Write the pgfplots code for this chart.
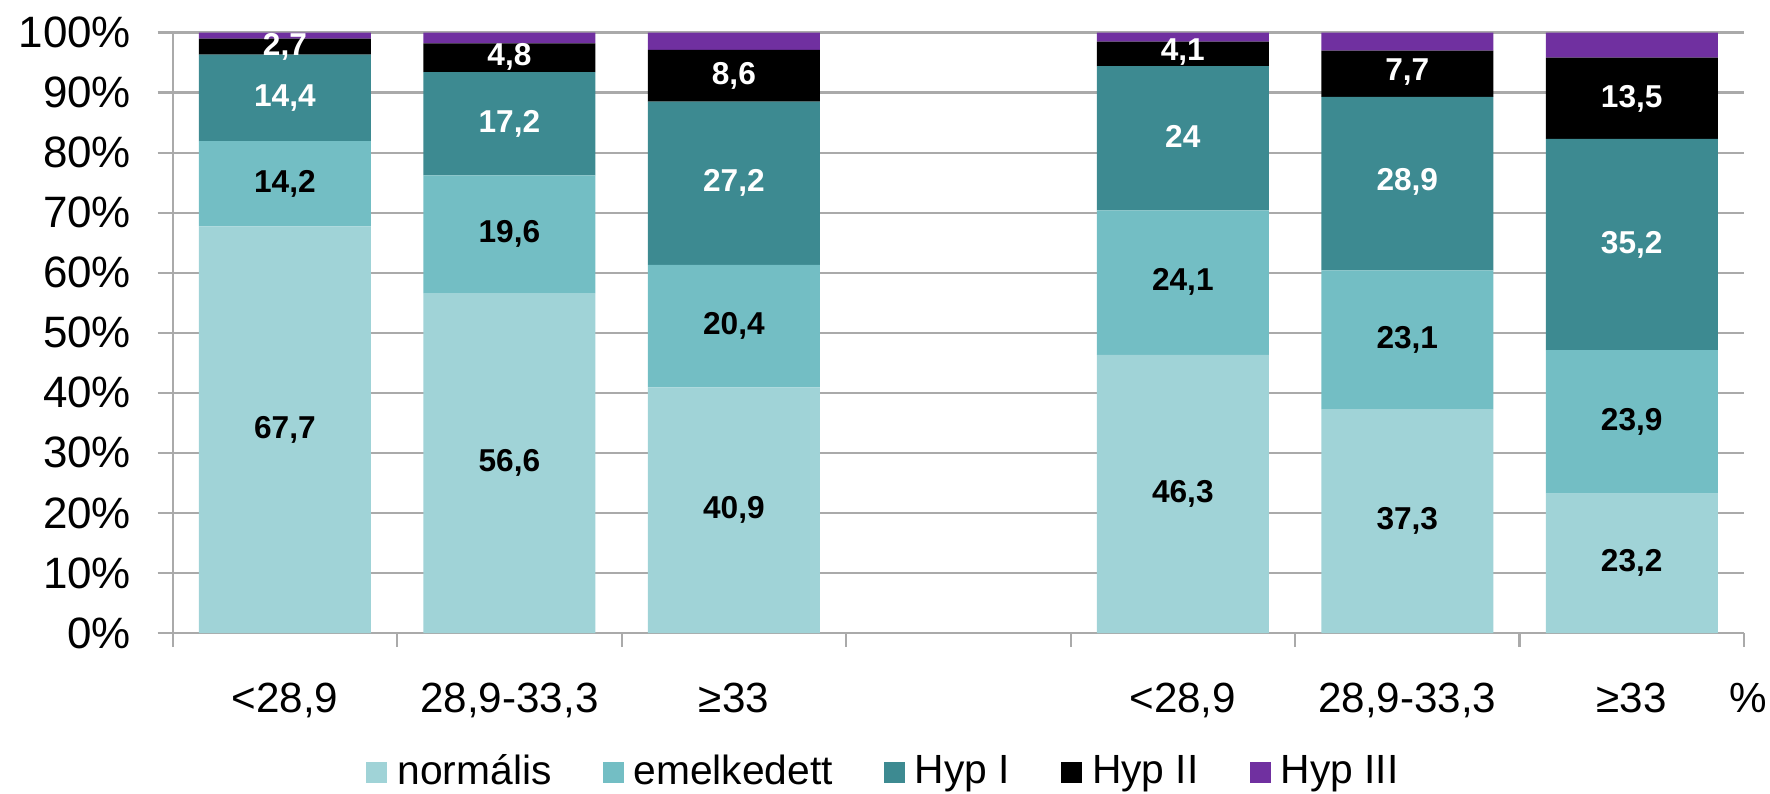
\documentclass[border=0pt]{standalone}
\usepackage{pgfplots}
\pgfplotsset{compat=1.18}
\usepackage{fontspec}
\setmainfont{Liberation Sans}
\definecolor{cNorm}{RGB}{160,211,215}
\definecolor{cEmel}{RGB}{115,190,196}
\definecolor{cHypI}{RGB}{61,138,145}
\definecolor{cHypII}{RGB}{0,0,0}
\definecolor{cHypIII}{RGB}{112,48,160}
\definecolor{cGrid}{RGB}{170,170,170}
\tikzset{lb/.style={font=\fontsize{9}{10}\selectfont\bfseries, text=black, inner sep=0pt},
         lw/.style={lb, text=white}}
\begin{document}
\begin{tikzpicture}
\useasboundingbox (-17.27mm,-16.0mm) rectangle (159.73mm,63.3mm);
\begin{axis}[
  scale only axis,
  width=157.13mm, height=60.05mm,
  ybar stacked, bar width=17.2mm,
  xmin=-0.5, xmax=6.5, ymin=0, ymax=100,
  axis x line*=bottom, axis y line*=left,
  axis line style={cGrid, line width=0.6pt, -},
  ymajorgrids, grid style={cGrid, line width=0.6pt},
  tick align=outside,
  ytick={0,10,...,100},
  yticklabels={0\%,10\%,20\%,30\%,40\%,50\%,60\%,70\%,80\%,90\%,100\%},
  y tick style={cGrid, line width=0.6pt},
  major tick length=1.5mm,
  yticklabel style={font=\fontsize{12.5}{14}\selectfont, anchor=east, inner sep=0pt, xshift=-2.6mm},
  xtick={0,1,2,4,5,6},
  xticklabels={{<28,9}, {28,9-33,3}, {≥33}, {<28,9}, {28,9-33,3}, {≥33}},
  x tick style={draw=none},
  xticklabel style={font=\fontsize{12}{14}\selectfont, anchor=base, inner sep=0pt, yshift=-6.4mm},
  minor xtick={-0.5,0.5,...,6.5},
  minor x tick style={cGrid, line width=0.6pt, draw=cGrid},
  minor tick length=1.4mm,
  legend columns=5,
  legend style={at={(0.4533,-0.2315)}, anchor=center, draw=none, fill=none,
    font=\fontsize{11.6}{14}\selectfont,
    /tikz/every odd column/.append style={column sep=0.5mm},
    /tikz/every even column/.append style={column sep=4.6mm},
    nodes={inner sep=0.5mm}},
  legend image code/.code={\fill[#1] (0mm,-1.05mm) rectangle (2.1mm,1.05mm);},
  clip=false,
  after end axis/.append code={
    % normális
    \node[lb] at (axis cs:0,33.85) {67,7};
    \node[lb] at (axis cs:1,28.3) {56,6};
    \node[lb] at (axis cs:2,20.45) {40,9};
    \node[lb] at (axis cs:4,23.15) {46,3};
    \node[lb] at (axis cs:5,18.65) {37,3};
    \node[lb] at (axis cs:6,11.6) {23,2};
    % emelkedett
    \node[lb] at (axis cs:0,74.8) {14,2};
    \node[lb] at (axis cs:1,66.4) {19,6};
    \node[lb] at (axis cs:2,51.1) {20,4};
    \node[lb] at (axis cs:4,58.4) {24,1};
    \node[lb] at (axis cs:5,48.85) {23,1};
    \node[lb] at (axis cs:6,35.15) {23,9};
    % Hyp I
    \node[lw] at (axis cs:0,89.1) {14,4};
    \node[lw] at (axis cs:1,84.8) {17,2};
    \node[lw] at (axis cs:2,74.9) {27,2};
    \node[lw] at (axis cs:4,82.7) {24};
    \node[lw] at (axis cs:5,75.1) {28,9};
    \node[lw] at (axis cs:6,64.7) {35,2};
    % Hyp II
    \node[lw] at (axis cs:0,97.6) {2,7};
    \node[lw] at (axis cs:1,96.0) {4,8};
    \node[lw] at (axis cs:2,92.8) {8,6};
    \node[lw] at (axis cs:4,96.8) {4,1};
    \node[lw] at (axis cs:5,93.4) {7,7};
    \node[lw] at (axis cs:6,88.9) {13,5};
    \node[anchor=base, font=\fontsize{12}{14}\selectfont, inner sep=0pt] at (axis cs:6.5,0) [xshift=0.4mm, yshift=-7.9mm] {\%};
  },
]
\addplot[fill=cNorm, draw=none] coordinates {(0,67.7) (1,56.6) (2,40.9) (4,46.3) (5,37.3) (6,23.2)};
\addplot[fill=cEmel, draw=none] coordinates {(0,14.2) (1,19.6) (2,20.4) (4,24.1) (5,23.1) (6,23.9)};
\addplot[fill=cHypI, draw=none] coordinates {(0,14.4) (1,17.2) (2,27.2) (4,24.0) (5,28.9) (6,35.2)};
\addplot[fill=cHypII, draw=none] coordinates {(0,2.7) (1,4.8) (2,8.6) (4,4.1) (5,7.7) (6,13.5)};
\addplot[fill=cHypIII, draw=none] coordinates {(0,1.0) (1,1.8) (2,2.9) (4,1.5) (5,3.0) (6,4.2)};
\legend{normális, emelkedett, Hyp I, Hyp II, Hyp III}
\end{axis}
\end{tikzpicture}
\end{document}
